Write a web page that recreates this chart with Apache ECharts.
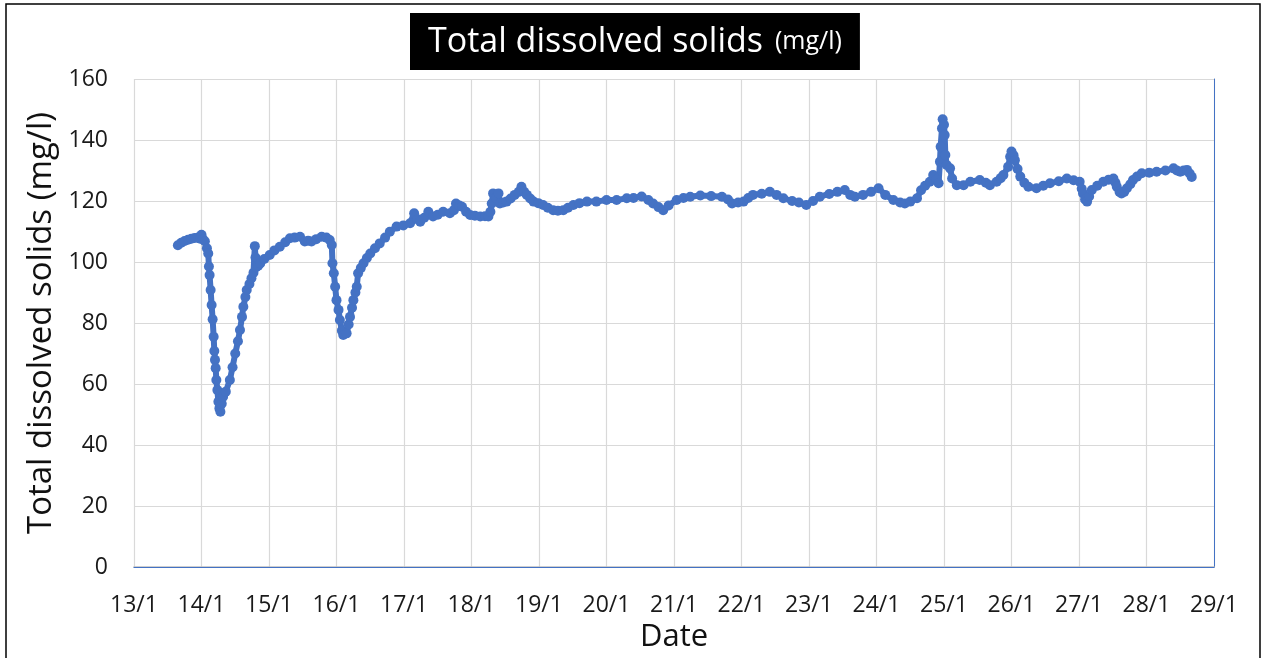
<!DOCTYPE html>
<html>
<head>
<meta charset="utf-8">
<title>Total dissolved solids</title>
<script src="https://cdn.jsdelivr.net/npm/echarts@6/dist/echarts.min.js"></script>
<style>
  html, body { margin: 0; padding: 0; background: #fff; }
  #chart { width: 1265px; height: 658px; }
</style>
</head>
<body>
<div id="chart"></div>
<script>
const FONT = 'Open Sans';
const BLUE = '#4472C4';

// x = day of January (fractional), y = TDS in mg/l
const days = [
  13.65, 13.70, 13.75, 13.80, 13.85, 13.90, 13.95, 13.98, 14.00, 14.02,
  14.05, 14.08, 14.10, 14.11, 14.12, 14.135, 14.15, 14.165, 14.18, 14.19,
  14.20, 14.21, 14.22, 14.235, 14.25, 14.265, 14.28, 14.30, 14.32, 14.36,
  14.42, 14.46, 14.50, 14.54, 14.57, 14.60, 14.62, 14.65, 14.67, 14.71,
  14.74, 14.77, 14.79, 14.80, 14.81, 14.84, 14.87, 14.93, 15.01, 15.08,
  15.16, 15.24, 15.31, 15.38, 15.46, 15.53, 15.58, 15.63, 15.70, 15.78,
  15.85, 15.90, 15.93, 15.94, 15.96, 15.98, 16.00, 16.03, 16.05, 16.08,
  16.10, 16.15, 16.18, 16.20, 16.23, 16.25, 16.28, 16.30, 16.32, 16.36,
  16.40, 16.45, 16.50, 16.57, 16.64, 16.72, 16.79, 16.89, 16.99, 17.09,
  17.15, 17.20, 17.24, 17.30, 17.36, 17.43, 17.50, 17.58, 17.68, 17.74,
  17.77, 17.82, 17.86, 17.92, 17.98, 18.05, 18.13, 18.20, 18.25, 18.28,
  18.30, 18.32, 18.36, 18.40, 18.42, 18.47, 18.52, 18.58, 18.64, 18.70,
  18.74, 18.78, 18.82, 18.87, 18.92, 18.99, 19.06, 19.13, 19.21, 19.28,
  19.36, 19.43, 19.51, 19.60, 19.71, 19.85, 20.00, 20.15, 20.30, 20.40,
  20.52, 20.62, 20.69, 20.77, 20.84, 20.92, 21.04, 21.14, 21.24, 21.39,
  21.55, 21.71, 21.80, 21.86, 21.95, 22.03, 22.10, 22.17, 22.30, 22.42,
  22.52, 22.62, 22.75, 22.85, 22.96, 23.06, 23.16, 23.30, 23.42, 23.53,
  23.61, 23.68, 23.80, 23.92, 24.03, 24.13, 24.25, 24.35, 24.42, 24.50,
  24.60, 24.66, 24.72, 24.79, 24.84, 24.89, 24.92, 24.94, 24.95, 24.97,
  24.98, 25.00, 25.01, 25.02, 25.04, 25.09, 25.12, 25.19, 25.29, 25.39,
  25.53, 25.62, 25.68, 25.78, 25.84, 25.88, 25.95, 25.98, 26.00, 26.03,
  26.05, 26.09, 26.13, 26.19, 26.25, 26.37, 26.47, 26.57, 26.70, 26.82,
  26.92, 27.01, 27.04, 27.06, 27.09, 27.12, 27.15, 27.19, 27.27, 27.36,
  27.44, 27.51, 27.54, 27.56, 27.60, 27.63, 27.67, 27.71, 27.76, 27.80,
  27.86, 27.93, 28.04, 28.15, 28.28, 28.40, 28.45, 28.50, 28.55, 28.60,
  28.64, 28.67
];
const tds = [
  105.5, 106.3, 106.9, 107.3, 107.6, 107.9, 108.0, 107.6, 108.9, 107.5,
  106.8, 104.5, 102.8, 98.5, 95.7, 90.8, 85.9, 81.2, 75.5, 70.8,
  67.9, 65.2, 61.3, 58.0, 54.2, 52.0, 50.9, 53.5, 55.8, 57.5,
  61.3, 65.5, 70.0, 74.0, 77.7, 82.0, 85.3, 88.5, 90.8, 92.8,
  94.7, 96.5, 105.2, 101.5, 98.3, 98.8, 99.5, 101.0, 102.3, 103.8,
  105.0, 106.5, 107.8, 108.0, 108.3, 106.7, 107.0, 106.7, 107.5, 108.3,
  108.0, 107.2, 105.6, 99.6, 96.3, 91.9, 87.5, 84.3, 81.0, 77.5,
  76.1, 76.6, 79.5, 82.0, 85.0, 87.5, 90.0, 91.9, 96.3, 98.0,
  99.6, 101.3, 102.8, 104.5, 106.1, 108.0, 109.9, 111.6, 112.0, 112.7,
  116.0, 114.0, 113.2, 114.5, 116.5, 114.9, 115.5, 116.5, 116.0, 117.0,
  119.2, 118.5, 118.1, 116.5, 115.4, 115.2, 114.9, 115.0, 114.9, 116.5,
  119.2, 122.5, 121.0, 122.5, 119.2, 119.5, 119.8, 120.8, 122.0, 123.0,
  124.7, 123.0, 122.0, 120.8, 119.8, 119.3, 118.7, 117.8, 117.0, 116.8,
  117.0, 117.8, 118.7, 119.3, 119.8, 119.8, 120.3, 120.3, 120.9, 121.0,
  121.5, 120.3, 119.2, 118.0, 117.0, 118.5, 120.3, 121.0, 121.4, 121.8,
  121.6, 121.4, 120.5, 119.2, 119.5, 119.8, 121.0, 122.0, 122.4, 123.0,
  122.0, 120.9, 120.0, 119.5, 118.7, 120.0, 121.4, 122.3, 123.0, 123.6,
  122.0, 121.4, 122.0, 123.0, 124.2, 122.0, 120.3, 119.5, 119.2, 119.8,
  120.9, 123.5, 125.0, 126.3, 128.5, 127.0, 125.8, 132.9, 137.8, 143.8,
  146.8, 145.0, 141.6, 135.1, 131.8, 130.7, 127.4, 125.2, 125.2, 126.3,
  126.9, 126.0, 125.2, 126.3, 127.5, 128.5, 131.2, 134.5, 136.2, 135.0,
  133.4, 130.5, 128.0, 126.0, 124.7, 124.2, 125.0, 125.8, 126.5, 127.4,
  126.8, 126.3, 124.0, 122.5, 120.5, 119.8, 121.5, 123.6, 125.0, 126.3,
  127.0, 127.4, 126.0, 124.7, 123.0, 122.5, 123.0, 124.2, 125.5, 126.9,
  128.0, 129.1, 129.3, 129.6, 130.0, 130.7, 130.0, 129.6, 130.0, 130.2,
  129.0, 127.9
];

const xMin = 13;
const xMax = 29;
const yMin = 0;
const yMax = 160;

const chart = echarts.init(document.getElementById('chart'), null, { renderer: 'canvas' });

const option = {
  backgroundColor: '#fff',
  animation: false,
  title: {
    text: '{a|Total dissolved solids}{b|(mg/l)}',
    left: 410,
    top: 8,
    backgroundColor: '#000',
    padding: [12, 18, 11, 18],
    textStyle: {
      fontWeight: 'normal',
      rich: {
        a: { fontFamily: FONT, fontSize: 34, fontWeight: 'normal', color: '#fff', lineHeight: 44 },
        b: { fontFamily: FONT, fontSize: 25, fontWeight: 'normal', color: '#fff', lineHeight: 44, padding: [0, 0, 0, 12] }
      }
    }
  },
  graphic: [
    {
      type: 'rect',
      shape: { x: 6, y: 4, width: 1254, height: 680 },
      style: { fill: 'none', stroke: '#000', lineWidth: 1.5 },
      silent: true
    }
  ],
  grid: { left: 134, right: 51, top: 79, bottom: 91 },
  xAxis: [
    {
      type: 'value',
      min: xMin,
      max: xMax,
      interval: 1,
      name: 'Date',
      nameLocation: 'middle',
      nameGap: 54,
      nameTextStyle: { fontFamily: FONT, fontSize: 31, color: '#111' },
      axisLine: { lineStyle: { color: '#bfbfbf', width: 1.5 } },
      axisTick: { show: false },
      axisLabel: {
        fontFamily: FONT, fontSize: 23, color: '#1a1a1a', margin: 27,
        formatter: v => `${v}/1`
      },
      splitLine: { show: true, lineStyle: { color: '#d9d9d9', width: 1.2 } }
    },
    {
      type: 'value',
      position: 'top',
      min: xMin,
      max: xMax,
      axisLine: { show: true, lineStyle: { color: BLUE, width: 1 } },
      axisTick: { show: false },
      axisLabel: { show: false },
      splitLine: { show: false }
    }
  ],
  yAxis: [
    {
      type: 'value',
      min: yMin,
      max: yMax,
      interval: 20,
      name: 'Total dissolved solids (mg/l)',
      nameLocation: 'middle',
      nameGap: 74,
      nameTextStyle: { fontFamily: FONT, fontSize: 33, color: '#111' },
      axisLine: { show: false },
      axisTick: { show: false },
      axisLabel: { fontFamily: FONT, fontSize: 23, color: '#1a1a1a', margin: 26 },
      splitLine: { show: true, lineStyle: { color: '#d9d9d9', width: 1.2 } }
    },
    {
      type: 'value',
      position: 'right',
      min: yMin,
      max: yMax,
      axisLine: { show: true, lineStyle: { color: BLUE, width: 1 } },
      axisTick: { show: false },
      axisLabel: { show: false },
      splitLine: { show: false }
    }
  ],
  series: [
    {
      name: 'TDS',
      type: 'line',
      data: days.map((d, i) => [d, tds[i]]),
      symbol: 'circle',
      symbolSize: 10,
      showSymbol: true,
      color: BLUE,
      itemStyle: { color: BLUE },
      lineStyle: { color: BLUE, width: 6 },
      z: 5
    }
  ]
};

chart.setOption(option);
</script>
</body>
</html>
